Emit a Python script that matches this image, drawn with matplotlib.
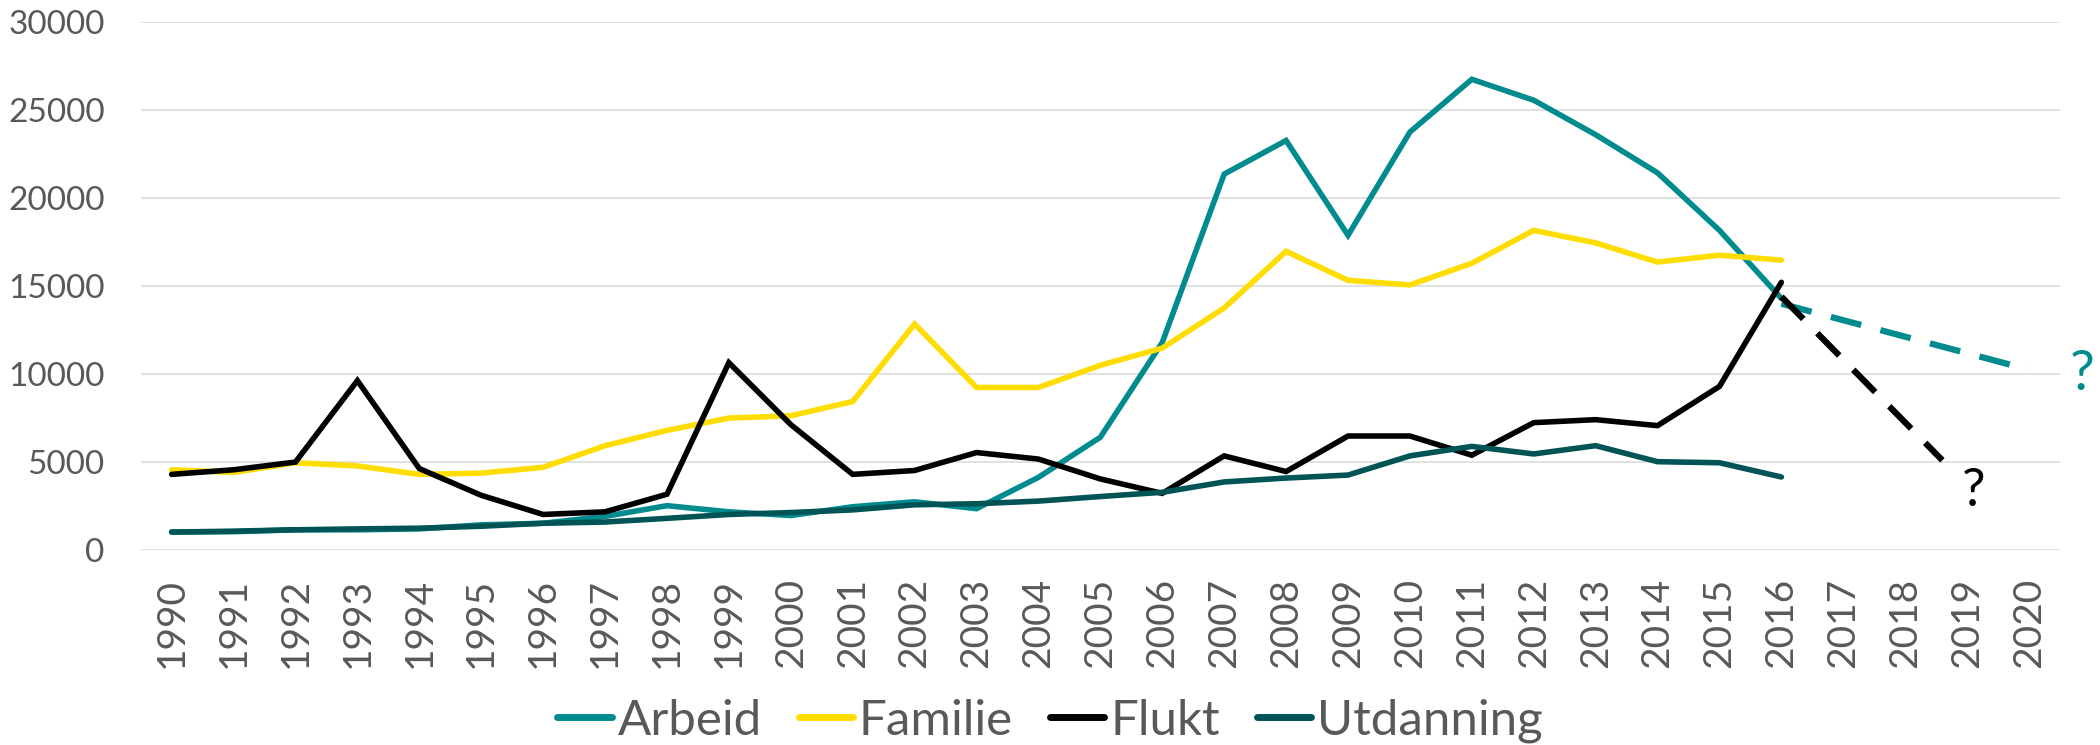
import matplotlib
matplotlib.use("Agg")
import matplotlib.pyplot as plt

years = list(range(1990, 2017))
all_years = list(range(1990, 2021))

arbeid = [1020, 1040, 1150, 1150, 1200, 1430, 1520, 1910, 2520, 2170,
          1960, 2460, 2740, 2350, 4130, 6410, 11800, 21370, 23280, 17890,
          23760, 26760, 25570, 23610, 21440, 18170, 14300]
familie = [4560, 4410, 4960, 4780, 4300, 4370, 4700, 5930, 6800, 7500,
           7630, 8440, 12850, 9240, 9240, 10500, 11480, 13760, 16980, 15330,
           15070, 16300, 18170, 17460, 16370, 16760, 16480]
flukt = [4300, 4560, 5000, 9630, 4630, 3110, 2020, 2170, 3170, 10650,
         7130, 4300, 4520, 5540, 5170, 4040, 3220, 5350, 4460, 6480,
         6480, 5390, 7240, 7410, 7070, 9300, 15220]
utdanning = [1020, 1070, 1150, 1200, 1240, 1350, 1520, 1590, 1800, 2020,
             2130, 2280, 2570, 2630, 2780, 3040, 3280, 3870, 4090, 4260,
             5350, 5890, 5460, 5930, 5020, 4960, 4150]

# antatt utvikling etter 2016
arbeid_proj_x = [2016, 2020]
arbeid_proj_y = [14000, 10250]
flukt_proj_x = [2016, 2018.6]
flukt_proj_y = [14400, 5100]

c_arbeid = '#008B8E'
c_familie = '#FFDD00'
c_flukt = '#000000'
c_utd = '#005456'
grey = '#595959'

plt.rcParams['font.family'] = ['Lato', 'DejaVu Sans']

fig = plt.figure(figsize=(21, 7.45), dpi=100)
ax = fig.add_axes([140.7 / 2100, 1 - 550 / 745, (2060 - 140.7) / 2100, (550 - 22.3) / 745])

lw = 4
ax.plot(years, arbeid, color=c_arbeid, lw=lw, label='Arbeid', solid_capstyle='round', solid_joinstyle='miter')
ax.plot(years, familie, color=c_familie, lw=lw, label='Familie', solid_capstyle='round', solid_joinstyle='miter')
ax.plot(years, flukt, color=c_flukt, lw=lw, label='Flukt', solid_capstyle='round', solid_joinstyle='miter')
ax.plot(years, utdanning, color=c_utd, lw=lw, label='Utdanning', solid_capstyle='round', solid_joinstyle='miter')

ax.plot(arbeid_proj_x, arbeid_proj_y, color=c_arbeid, lw=lw + 0.5, linestyle=(0, (5, 3.2)))
ax.plot(flukt_proj_x, flukt_proj_y, color=c_flukt, lw=lw + 0.5, linestyle=(0, (5, 3.2)))

ax.text(2020.86, 9950, '?', color=c_arbeid, fontsize=40, ha='center', va='center')
ax.text(2019.1, 3300, '?', color=c_flukt, fontsize=38, ha='center', va='center')

ax.set_xlim(1989.5, 2020.5)
ax.set_ylim(0, 30000)
ax.set_yticks(range(0, 30001, 5000))
ax.set_xticks(all_years)
ax.set_xticklabels([str(y) for y in all_years], rotation=90)
ax.tick_params(axis='y', length=0, pad=26, labelsize=24, labelcolor=grey)
ax.tick_params(axis='x', length=0, pad=20, labelsize=28, labelcolor=grey)
ax.grid(axis='y', color='#D9D9D9', lw=1.1)
ax.set_axisbelow(True)
for s in ax.spines.values():
    s.set_visible(False)

leg = fig.legend(loc='center', bbox_to_anchor=(0.5, 24 / 745), ncol=4, frameon=False,
                 fontsize=35.5, handlelength=1.1, handletextpad=0.12, columnspacing=0.75,
                 borderaxespad=0)
for t in leg.get_texts():
    t.set_color(grey)
for h in leg.get_lines():
    h.set_linewidth(5)

fig.savefig('out.png', dpi=100)
